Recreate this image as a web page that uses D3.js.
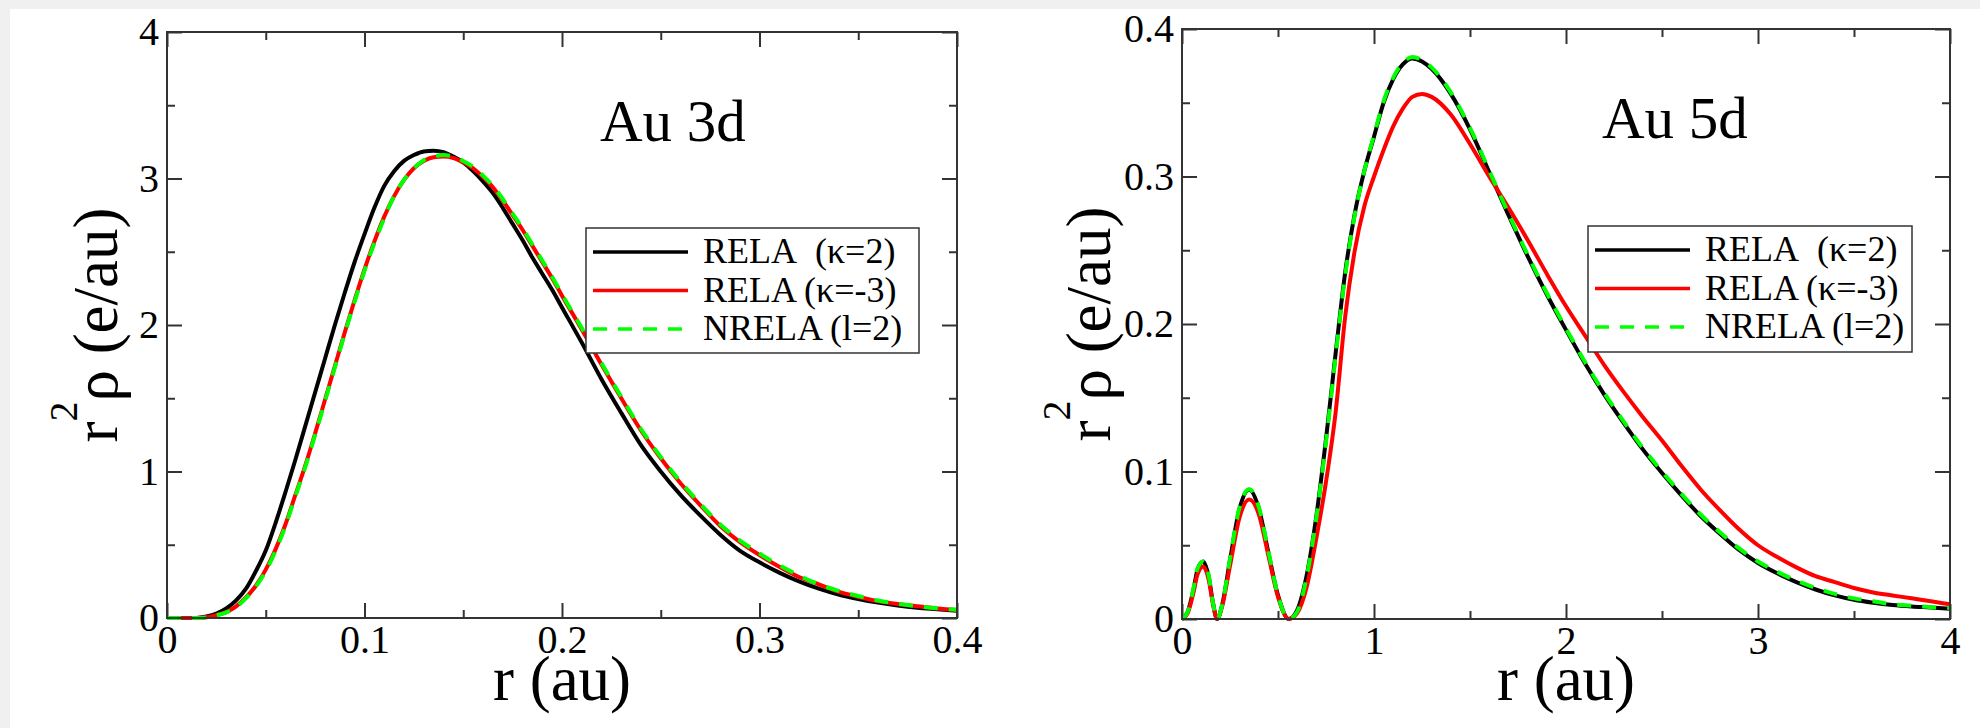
<!DOCTYPE html>
<html>
<head>
<meta charset="utf-8">
<script src="https://cdn.jsdelivr.net/npm/d3@7"></script>
<style>
html, body { margin: 0; padding: 0; background: #f0f0f0; }
svg { display: block; }
</style>
</head>
<body>
<svg id="fig" width="1980" height="728"></svg>
<script>
// ---- Au 3d panel ----
var r3d = [0, 0.01, 0.015, 0.02, 0.025, 0.03, 0.035, 0.04, 0.045, 0.05,
  0.055, 0.06, 0.065, 0.07, 0.075, 0.08, 0.085, 0.09, 0.095, 0.1,
  0.105, 0.11, 0.115, 0.12, 0.125, 0.13, 0.135, 0.14, 0.145, 0.15,
  0.155, 0.16, 0.165, 0.17, 0.175, 0.18, 0.185, 0.19, 0.195, 0.2,
  0.21, 0.22, 0.23, 0.24, 0.25, 0.26, 0.27, 0.28, 0.29, 0.3,
  0.31, 0.32, 0.33, 0.34, 0.35, 0.36, 0.37, 0.38, 0.39, 0.4];
var rela3dK2 = [0, 0, 0, 0.01, 0.03, 0.065, 0.12, 0.2, 0.32, 0.46,
  0.65, 0.86, 1.08, 1.31, 1.54, 1.77, 2.0, 2.22, 2.43, 2.62,
  2.8, 2.95, 3.05, 3.12, 3.16, 3.185, 3.19, 3.18, 3.15, 3.11,
  3.05, 2.98, 2.9, 2.8, 2.69, 2.58, 2.46, 2.35, 2.24, 2.12,
  1.88, 1.63, 1.4, 1.18, 1.0, 0.84, 0.7, 0.57, 0.46, 0.38,
  0.31, 0.25, 0.2, 0.16, 0.13, 0.105, 0.085, 0.07, 0.06, 0.05];
var rela3dKm3 = [0, 0, 0, 0.005, 0.02, 0.04, 0.08, 0.14, 0.22, 0.33,
  0.47, 0.64, 0.84, 1.04, 1.26, 1.49, 1.72, 1.95, 2.17, 2.38,
  2.57, 2.74, 2.88, 2.99, 3.07, 3.12, 3.145, 3.15, 3.14, 3.11,
  3.07, 3.01, 2.94, 2.85, 2.75, 2.65, 2.54, 2.43, 2.32, 2.2,
  1.97, 1.73, 1.5, 1.28, 1.09, 0.92, 0.77, 0.63, 0.52, 0.43,
  0.35, 0.28, 0.23, 0.18, 0.145, 0.115, 0.095, 0.08, 0.065, 0.055];
var nrela3d = [0, 0, 0, 0.004, 0.018, 0.038, 0.075, 0.135, 0.215, 0.32,
  0.46, 0.63, 0.83, 1.03, 1.25, 1.48, 1.71, 1.94, 2.16, 2.37,
  2.56, 2.73, 2.88, 2.99, 3.07, 3.125, 3.15, 3.16, 3.15, 3.12,
  3.08, 3.02, 2.95, 2.86, 2.76, 2.66, 2.55, 2.44, 2.33, 2.21,
  1.98, 1.74, 1.51, 1.29, 1.1, 0.93, 0.78, 0.64, 0.53, 0.44,
  0.36, 0.29, 0.23, 0.185, 0.15, 0.12, 0.097, 0.08, 0.066, 0.056];
var xMajor3d = [0, 0.1, 0.2, 0.3, 0.4];
var xMinor3d = [0.05, 0.15, 0.25, 0.35];
var yMajor3d = [0, 1, 2, 3, 4];
var yMinor3d = [0.5, 1.5, 2.5, 3.5];
var xLabels3d = ["0", "0.1", "0.2", "0.3", "0.4"];
var yLabels3d = ["0", "1", "2", "3", "4"];

// ---- Au 5d panel ----
var r5d = [0, 0.03, 0.06, 0.08, 0.11, 0.14, 0.16, 0.183, 0.21, 0.25,
  0.3, 0.35, 0.4, 0.45, 0.5, 0.556, 0.6, 0.65, 0.7, 0.75,
  0.8, 0.85, 0.9, 0.95, 1.0, 1.05, 1.1, 1.15, 1.2, 1.25,
  1.3, 1.4, 1.5, 1.6, 1.7, 1.8, 1.9, 2.0, 2.1, 2.2,
  2.3, 2.4, 2.5, 2.6, 2.7, 2.8, 2.9, 3.0, 3.1, 3.2,
  3.3, 3.4, 3.5, 3.6, 3.7, 3.8, 3.9, 4.0];
var rela5dK2 = [0, 0.005, 0.02, 0.033, 0.039, 0.028, 0.012, 0, 0.01, 0.04,
  0.075, 0.0876, 0.075, 0.045, 0.016, 0, 0.006, 0.03, 0.07, 0.122,
  0.18, 0.235, 0.275, 0.304, 0.327, 0.35, 0.366, 0.376, 0.38, 0.378,
  0.373, 0.356, 0.332, 0.303, 0.274, 0.246, 0.22, 0.196, 0.173, 0.152,
  0.133, 0.115, 0.099, 0.084, 0.07, 0.058, 0.047, 0.038, 0.031, 0.025,
  0.02, 0.016, 0.013, 0.011, 0.0095, 0.0085, 0.0078, 0.007];
var rela5dKm3 = [0, 0.004, 0.018, 0.03, 0.0356, 0.026, 0.011, 0, 0.009, 0.036,
  0.069, 0.081, 0.071, 0.043, 0.015, 0, 0.004, 0.022, 0.055, 0.093,
  0.14, 0.205, 0.25, 0.28, 0.3, 0.318, 0.334, 0.346, 0.354, 0.356,
  0.354, 0.342, 0.322, 0.3, 0.279, 0.257, 0.234, 0.212, 0.192, 0.172,
  0.154, 0.137, 0.121, 0.104, 0.088, 0.074, 0.061, 0.05, 0.042, 0.035,
  0.029, 0.025, 0.021, 0.018, 0.016, 0.014, 0.012, 0.01];
var nrela5d = [0, 0.005, 0.021, 0.034, 0.039, 0.029, 0.012, 0, 0.01, 0.041,
  0.076, 0.088, 0.076, 0.046, 0.016, 0, 0.005, 0.029, 0.069, 0.12,
  0.178, 0.233, 0.274, 0.304, 0.328, 0.351, 0.367, 0.377, 0.381, 0.379,
  0.374, 0.357, 0.333, 0.304, 0.275, 0.247, 0.221, 0.197, 0.174, 0.153,
  0.134, 0.116, 0.1, 0.085, 0.071, 0.059, 0.048, 0.039, 0.032, 0.026,
  0.021, 0.017, 0.014, 0.012, 0.01, 0.009, 0.008, 0.0075];
var xMajor5d = [0, 1, 2, 3, 4];
var xMinor5d = [0.5, 1.5, 2.5, 3.5];
var yMajor5d = [0, 0.1, 0.2, 0.3, 0.4];
var yMinor5d = [0.05, 0.15, 0.25, 0.35];
var xLabels5d = ["0", "1", "2", "3", "4"];
var yLabels5d = ["0", "0.1", "0.2", "0.3", "0.4"];

var legendLabels = ["RELA\u00a0\u00a0(\u03ba=2)", "RELA (\u03ba=-3)", "NRELA (l=2)"];
var seriesColors = ["#000000", "#ff0000", "#00ff00"];

var serif = "'Liberation Serif', 'Times New Roman', Times, serif";
var svg = d3.select("#fig");

// white sheet over the grey page
svg.append("rect").attr("x", 10).attr("y", 9).attr("width", 1970).attr("height", 719).attr("fill", "#fff");

function panel(p) {
  var x = d3.scaleLinear().domain(p.xDomain).range([p.left, p.right]);
  var y = d3.scaleLinear().domain(p.yDomain).range([p.bottom, p.top]);
  var g = svg.append("g");
  var axisColor = "#333";

  function styleAxis(a) {
    a.select(".domain").remove();
    a.attr("font-family", serif).attr("font-size", 40);
    a.selectAll("line").attr("stroke", axisColor).attr("stroke-width", 2);
    a.selectAll("text").style("font-family", serif).style("font-size", "40px").attr("fill", "#000");
  }

  g.append("g").attr("transform", "translate(0," + p.bottom + ")")
    .call(d3.axisBottom(x).tickValues(p.xMajor).tickSize(-15).tickPadding(7)
      .tickFormat(function (d, i) { return p.xLabels[i]; }))
    .call(styleAxis);
  g.append("g").attr("transform", "translate(0," + p.bottom + ")")
    .call(d3.axisBottom(x).tickValues(p.xMinor).tickSize(-8).tickFormat(""))
    .call(styleAxis);
  g.append("g").attr("transform", "translate(0," + p.top + ")")
    .call(d3.axisTop(x).tickValues(p.xMajor).tickSize(-15).tickFormat(""))
    .call(styleAxis);
  g.append("g").attr("transform", "translate(0," + p.top + ")")
    .call(d3.axisTop(x).tickValues(p.xMinor).tickSize(-8).tickFormat(""))
    .call(styleAxis);
  g.append("g").attr("transform", "translate(" + p.left + ",0)")
    .call(d3.axisLeft(y).tickValues(p.yMajor).tickSize(-15).tickPadding(8)
      .tickFormat(function (d, i) { return p.yLabels[i]; }))
    .call(styleAxis);
  g.append("g").attr("transform", "translate(" + p.left + ",0)")
    .call(d3.axisLeft(y).tickValues(p.yMinor).tickSize(-8).tickFormat(""))
    .call(styleAxis);
  g.append("g").attr("transform", "translate(" + p.right + ",0)")
    .call(d3.axisRight(y).tickValues(p.yMajor).tickSize(-15).tickFormat(""))
    .call(styleAxis);
  g.append("g").attr("transform", "translate(" + p.right + ",0)")
    .call(d3.axisRight(y).tickValues(p.yMinor).tickSize(-8).tickFormat(""))
    .call(styleAxis);

  // curves
  var line = d3.line()
    .x(function (d) { return x(d[0]); })
    .y(function (d) { return y(d[1]); })
    .curve(d3.curveMonotoneX);
  p.series.forEach(function (s, i) {
    g.append("path")
      .attr("d", line(d3.zip(p.r, s)))
      .attr("fill", "none")
      .attr("stroke", seriesColors[i])
      .attr("stroke-width", 4)
      .attr("stroke-dasharray", i == 2 ? "14,11" : null);
  });

  // frame
  g.append("rect").attr("x", p.left).attr("y", p.top)
    .attr("width", p.right - p.left).attr("height", p.bottom - p.top)
    .attr("fill", "none").attr("stroke", axisColor).attr("stroke-width", 2);

  // title
  g.append("text").attr("x", p.titleX).attr("y", p.titleY)
    .style("font-family", serif).style("font-size", "59px").text(p.title);

  // legend
  var lg = g.append("g");
  lg.append("rect").attr("x", p.legX).attr("y", p.legY).attr("width", p.legW).attr("height", p.legH)
    .attr("fill", "#fff").attr("stroke", axisColor).attr("stroke-width", 1.5);
  legendLabels.forEach(function (lab, i) {
    var ly = p.legY + 24 + i * 38.5;
    lg.append("line").attr("x1", p.legX + 7).attr("x2", p.legX + 102)
      .attr("y1", ly).attr("y2", ly)
      .attr("stroke", seriesColors[i]).attr("stroke-width", 3.5)
      .attr("stroke-dasharray", i == 2 ? "14,11" : null);
    lg.append("text").attr("x", p.legX + 117).attr("y", ly + 11)
      .style("font-family", serif).style("font-size", "36px").text(lab);
  });

  // axis titles
  g.append("text").attr("x", (p.left + p.right) / 2).attr("y", 700)
    .attr("text-anchor", "middle")
    .style("font-family", serif).style("font-size", "63px").text("r (au)");
  g.append("text")
    .attr("transform", "translate(" + p.yLabelX + "," + (p.top + p.bottom) / 2 + ") rotate(-90)")
    .attr("text-anchor", "middle")
    .style("font-family", serif).style("font-size", "63px")
    .call(function (t) {
      t.append("tspan").text("r");
      t.append("tspan").attr("dy", -40).style("font-size", "40px").text("2");
      t.append("tspan").attr("dy", 40).text("\u03c1 (e/au)");
    });
}

panel({
  left: 167, right: 957, top: 32, bottom: 618,
  xDomain: [0, 0.4], yDomain: [0, 4],
  xMajor: xMajor3d, xMinor: xMinor3d, yMajor: yMajor3d, yMinor: yMinor3d,
  xLabels: xLabels3d, yLabels: yLabels3d,
  r: r3d, series: [rela3dK2, rela3dKm3, nrela3d],
  title: "Au 3d", titleX: 600, titleY: 141,
  legX: 586, legY: 228, legW: 333, legH: 125,
  yLabelX: 117
});

panel({
  left: 1182, right: 1950, top: 29, bottom: 619,
  xDomain: [0, 4], yDomain: [0, 0.4],
  xMajor: xMajor5d, xMinor: xMinor5d, yMajor: yMajor5d, yMinor: yMinor5d,
  xLabels: xLabels5d, yLabels: yLabels5d,
  r: r5d, series: [rela5dK2, rela5dKm3, nrela5d],
  title: "Au 5d", titleX: 1602, titleY: 138,
  legX: 1588, legY: 226, legW: 324, legH: 126,
  yLabelX: 1110
});
</script>
</body>
</html>
